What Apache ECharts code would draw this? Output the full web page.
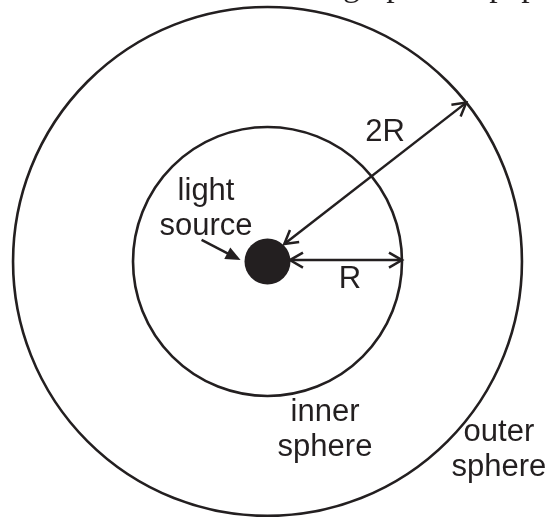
<!DOCTYPE html>
<html>
<head>
<meta charset="utf-8">
<script src="https://cdn.jsdelivr.net/npm/echarts@6/dist/echarts.min.js"></script>
<style>
  html, body { margin: 0; padding: 0; background: #fff; }
  #chart { width: 551px; height: 517px; }
</style>
</head>
<body>
<div id="chart"></div>
<script>
// units: inner sphere radius R = 1, light source at the origin
const spheres = [1.0, 1.892];          // inner, outer radius
const sourceRadius = 0.171;
// double headed dimension arrows: [x1, y1, x2, y2]
const dimensionArrows = [
  [0.167, 0.01, 1.0, 0.01],            // R
  [0.125, 0.13, 1.478, 1.181]          // 2R
];
// pointer to the light source: [fromX, fromY, tipX, tipY]
const pointerArrows = [[-0.49, 0.16, -0.2, 0.01]];
// labels, centred on [x, y]
const labelTexts = ['light\nsource', 'R', '2R', 'inner\nsphere', 'outer\nsphere'];
const labelPos = [
  [-0.457, 0.392],
  [0.613, -0.132],
  [0.874, 0.961],
  [0.4275, -1.251],
  [1.721, -1.4]
];
// cut off line of the page text above the figure
const pageText = ['graph of a paper'];
const pageTextPos = [[0.561, 2.04]];

const ink = '#231f20';
const myChart = echarts.init(document.getElementById('chart'));

function headPoints(tip, from, len, half) {
  const dx = tip[0] - from[0];
  const dy = tip[1] - from[1];
  const d = Math.sqrt(dx * dx + dy * dy);
  const ux = dx / d, uy = dy / d;
  const bx = tip[0] - ux * len, by = tip[1] - uy * len;
  return [
    [bx - uy * half, by + ux * half],
    tip,
    [bx + uy * half, by - ux * half]
  ];
}

function renderSphere(params, api) {
  const c = api.coord([0, 0]);
  const r = api.size([api.value(0), 0])[0];
  return {
    type: 'circle',
    shape: { cx: c[0], cy: c[1], r: r },
    style: { fill: null, stroke: ink, lineWidth: 2.6 }
  };
}

function renderSource(params, api) {
  const c = api.coord([0, 0]);
  const r = api.size([api.value(0), 0])[0];
  return {
    type: 'circle',
    shape: { cx: c[0], cy: c[1], r: r },
    style: { fill: ink }
  };
}

function renderDimension(params, api) {
  const a = api.coord([api.value(0), api.value(1)]);
  const b = api.coord([api.value(2), api.value(3)]);
  const lineStyle = { fill: null, stroke: ink, lineWidth: 2.5 };
  return {
    type: 'group',
    children: [
      { type: 'line', shape: { x1: a[0], y1: a[1], x2: b[0], y2: b[1] }, style: lineStyle },
      { type: 'polyline', shape: { points: headPoints(a, b, 13, 7.5) }, style: lineStyle },
      { type: 'polyline', shape: { points: headPoints(b, a, 13, 7.5) }, style: lineStyle }
    ]
  };
}

function renderPointer(params, api) {
  const a = api.coord([api.value(0), api.value(1)]);
  const b = api.coord([api.value(2), api.value(3)]);
  const head = headPoints(b, a, 15, 6.5);
  const d = Math.hypot(b[0] - a[0], b[1] - a[1]);
  const e = [a[0] + (b[0] - a[0]) * (d - 12) / d, a[1] + (b[1] - a[1]) * (d - 12) / d];
  return {
    type: 'group',
    children: [
      { type: 'line', shape: { x1: a[0], y1: a[1], x2: e[0], y2: e[1] }, style: { stroke: ink, lineWidth: 2.5 } },
      { type: 'polygon', shape: { points: head }, style: { fill: ink } }
    ]
  };
}

function renderLabel(params, api) {
  const p = api.coord([api.value(0), api.value(1)]);
  return {
    type: 'text',
    x: p[0],
    y: p[1],
    style: {
      text: labelTexts[params.dataIndex],
      fontSize: 31,
      fontFamily: 'Liberation Sans, Arial, sans-serif',
      lineHeight: 35,
      fill: ink,
      align: 'center',
      verticalAlign: 'middle'
    }
  };
}

function renderPageText(params, api) {
  const p = api.coord([api.value(0), api.value(1)]);
  return {
    type: 'text',
    x: p[0],
    y: p[1],
    style: {
      text: pageText[params.dataIndex],
      fontSize: 34,
      fontFamily: 'Liberation Serif, Times New Roman, serif',
      fill: ink,
      align: 'left',
      verticalAlign: 'middle'
    }
  };
}

const option = {
  backgroundColor: '#fff',
  animation: false,
  tooltip: { show: false },
  grid: { left: 0, right: 0, top: 0, bottom: 0 },
  xAxis: { type: 'value', min: -1.989, max: 2.108, show: false },
  yAxis: { type: 'value', min: -1.9, max: 1.944, show: false },
  series: [
    { type: 'custom', renderItem: renderSphere, data: spheres.map(r => [r]), silent: true },
    { type: 'custom', renderItem: renderSource, data: [[sourceRadius]], silent: true },
    { type: 'custom', renderItem: renderDimension, data: dimensionArrows, silent: true },
    { type: 'custom', renderItem: renderPointer, data: pointerArrows, silent: true },
    { type: 'custom', renderItem: renderLabel, data: labelPos, silent: true },
    { type: 'custom', renderItem: renderPageText, data: pageTextPos, silent: true }
  ]
};

myChart.setOption(option);
</script>
</body>
</html>
